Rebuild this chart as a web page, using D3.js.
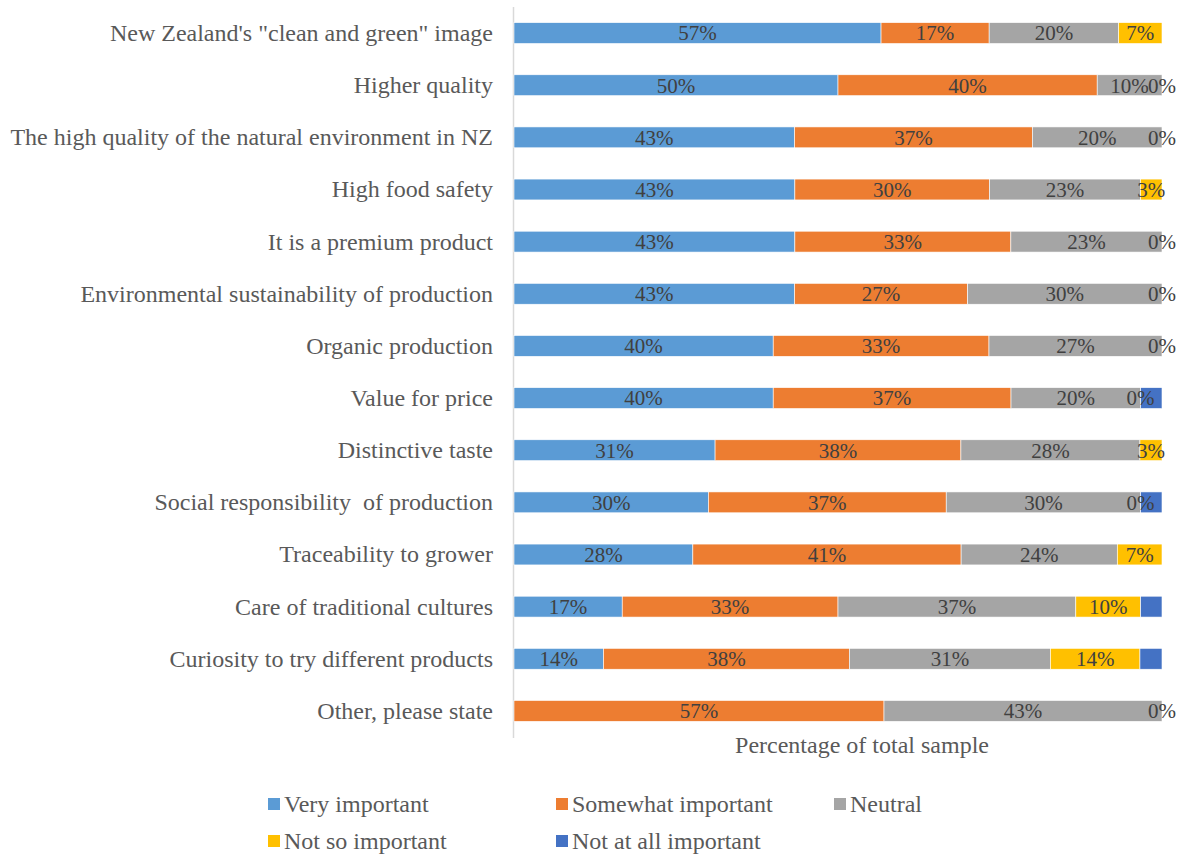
<!DOCTYPE html>
<html><head><meta charset="utf-8">
<script src="https://cdn.jsdelivr.net/npm/d3@7"></script>
<style>body{margin:0;background:#fff} text{white-space:pre}</style>
</head><body>
<svg id="c" width="1183" height="854"></svg>
<script>
const categories = [
  'New Zealand\'s "clean and green" image',
  "Higher quality",
  "The high quality of the natural environment in NZ",
  "High food safety",
  "It is a premium product",
  "Environmental sustainability of production",
  "Organic production",
  "Value for price",
  "Distinctive taste",
  "Social responsibility  of production",
  "Traceability to grower",
  "Care of traditional cultures",
  "Curiosity to try different products",
  "Other, please state"
];
const seriesNames = ["Very important","Somewhat important","Neutral","Not so important","Not at all important"];
const veryImportant     = [56.7,50,43.3,43.3,43.3,43.3,40,40,31.0,30,27.6,16.7,13.8,0];
const somewhatImportant = [16.7,40,36.7,30,33.3,26.7,33.3,36.7,37.9,36.7,41.4,33.3,37.9,57.1];
const neutral           = [20,10,20,23.3,23.3,30,26.7,20,27.6,30,24.1,36.7,31.0,42.9];
const notSoImportant    = [6.7,0,0,3.3,0,0,0,0,3.4,0,6.9,10,13.8,0];
const notAtAll          = [0,0,0,0,0,0,0,3.3,0,3.3,0,3.3,3.4,0];
const colors = ["#5B9BD5","#ED7D31","#A5A5A5","#FFC000","#4472C4"];
const xTitle = "Percentage of total sample";

(function(){
const seriesVals = [veryImportant, somewhatImportant, neutral, notSoImportant, notAtAll];
const rows = categories.map((c,i)=>{const o={cat:c}; seriesNames.forEach((s,j)=>o[s]=seriesVals[j][i]); return o;});
const stack = d3.stack().keys(seriesNames).offset(d3.stackOffsetExpand);
const stacked = stack(rows);

const svg = d3.select("#c");
const pL = 514, pR = 1162, pT = 7, pB = 737;
const x = d3.scaleLinear().domain([0,1]).range([pL,pR]);
const y = d3.scaleBand().domain(categories).range([pT,pB]).paddingInner(0.6).paddingOuter(0.3);

const font = "'Liberation Serif','Times New Roman',serif";
const txt = "#595959";

svg.append("line").attr("x1",pL-0.5).attr("x2",pL-0.5).attr("y1",pT).attr("y2",pB+1)
  .attr("stroke","#d9d9d9").attr("stroke-width",1.5);

const g = svg.append("g");
stacked.forEach((s,si)=>{
  g.selectAll(null).data(s).enter().append("rect")
    .attr("x",d=>x(d[0])).attr("width",d=>Math.max(0,x(d[1])-x(d[0])))
    .attr("y",d=>y(d.data.cat)).attr("height",y.bandwidth())
    .attr("fill",colors[si]).attr("stroke","#fff").attr("stroke-width",0.6);
});
stacked.forEach((s,si)=>{
  if (si===4) return;
  g.selectAll(null).data(s.filter(d=>(d[1]-d[0])>0 || si===3)).enter().append("text")
    .attr("x",d=>(x(d[0])+x(d[1]))/2).attr("y",d=>y(d.data.cat)+y.bandwidth()/2)
    .attr("dy","0.35em").attr("text-anchor","middle")
    .attr("font-family",font).attr("font-size",21).attr("fill","#404040")
    .text(d=>Math.round(d.data[seriesNames[si]])+"%");
});

const yAxis = d3.axisLeft(y).tickSize(0).tickPadding(21);
const ya = svg.append("g").attr("transform",`translate(${pL},0)`).call(yAxis);
ya.select(".domain").remove();
ya.selectAll("text").attr("font-family",font).attr("font-size",24).attr("fill",txt).attr("dy","0.33em");

svg.append("text").attr("x",862).attr("y",753).attr("text-anchor","middle")
  .attr("font-family",font).attr("font-size",24).attr("fill",txt).text(xTitle);

const legPos = [[268,804],[556,804],[834,804],[268,841],[556,841]];
seriesNames.forEach((s,i)=>{
  const [lx,ly]=legPos[i];
  svg.append("rect").attr("x",lx).attr("y",ly-6).attr("width",12).attr("height",12).attr("fill",colors[i]);
  svg.append("text").attr("x",lx+16).attr("y",ly).attr("dy","0.35em")
    .attr("font-family",font).attr("font-size",24).attr("fill",txt).text(s);
});
})();
</script>
</body></html>
